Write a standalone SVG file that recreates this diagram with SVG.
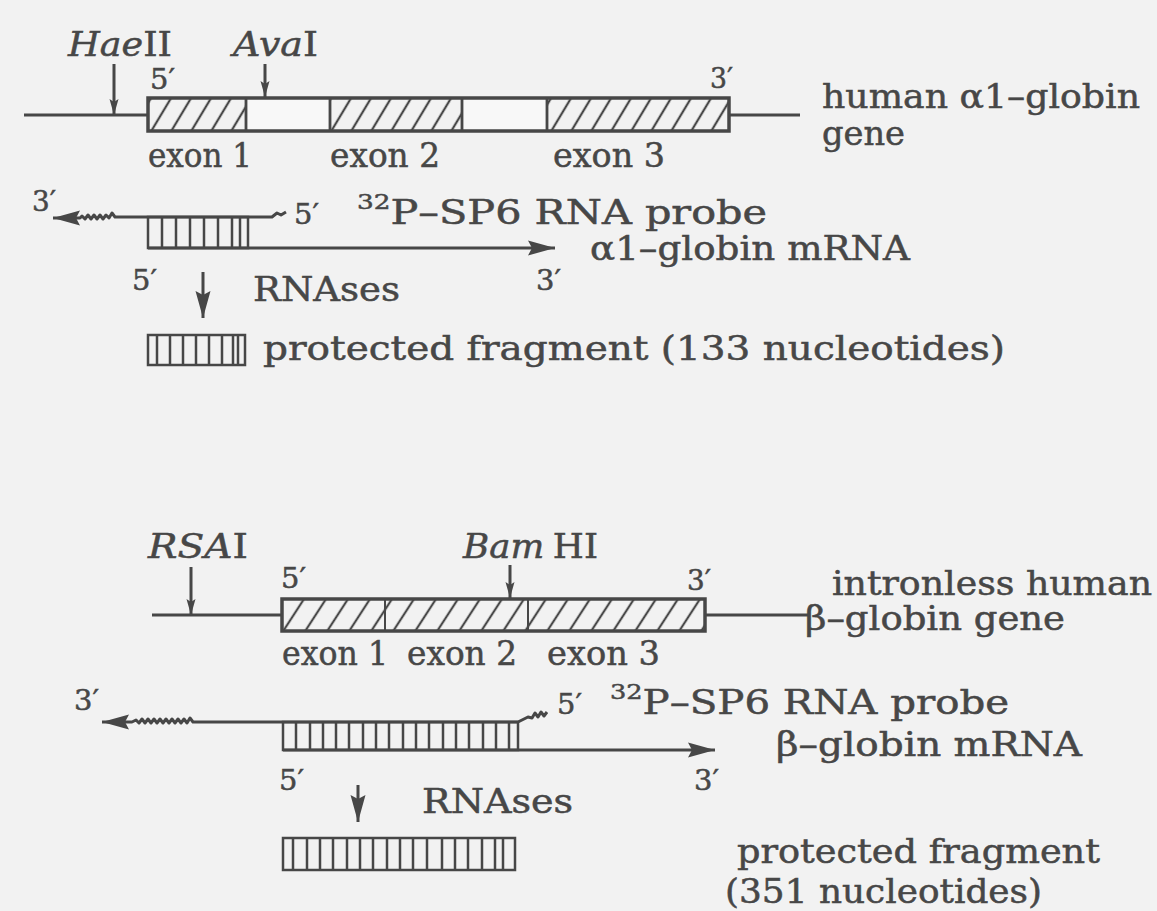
<svg xmlns="http://www.w3.org/2000/svg" width="1157" height="911" viewBox="0 0 1157 911">
<style>
.t{font-family:"DejaVu Serif","Liberation Serif",serif;font-size:33px;fill:#474747;stroke:#474747;stroke-width:0.5}
.p{font-size:27px}
.i{font-style:italic}
.sup{font-size:21px}
.ln{fill:none;stroke:#474747;stroke-width:3;stroke-linejoin:round}
.bx{fill:none;stroke:#474747;stroke-width:3.5}
.rg{fill:none;stroke:#474747;stroke-width:2.5}
.sep{fill:none;stroke:#474747;stroke-width:2.8}
.thin{fill:none;stroke:#474747;stroke-width:2}
</style>
<defs>
<pattern id="hT" patternUnits="userSpaceOnUse" width="20" height="60" patternTransform="skewX(-31)">
<line x1="10" y1="0" x2="10" y2="60" stroke="#474747" stroke-width="2.6"/>
</pattern>
<pattern id="hB" patternUnits="userSpaceOnUse" width="22" height="60" patternTransform="skewX(-33)">
<line x1="11" y1="0" x2="11" y2="60" stroke="#474747" stroke-width="2.6"/>
</pattern>
<marker id="big" viewBox="-28 -8 29 16" markerWidth="29" markerHeight="16" refX="0" refY="0" orient="auto" markerUnits="userSpaceOnUse">
<path d="M0,0 L-27,-7.5 L-23,0 L-27,7.5 Z" fill="#474747"/>
</marker>
<marker id="sm" viewBox="-17 -5 18 10" markerWidth="18" markerHeight="10" refX="0" refY="0" orient="auto" markerUnits="userSpaceOnUse">
<path d="M0,0 L-16,-4.5 L-13,0 L-16,4.5 Z" fill="#474747"/>
</marker>
</defs>
<rect x="0" y="0" width="1157" height="911" fill="#f2f2f2"/>

<!-- TOP: alpha1-globin gene -->
<g id="alpha-gene">
<line class="ln" x1="24" y1="115" x2="148" y2="115"/>
<line class="ln" x1="729" y1="115" x2="800" y2="115"/>
<rect x="246" y="98" width="84" height="33" fill="#f8f8f8"/>
<rect x="462" y="98" width="85" height="33" fill="#f8f8f8"/>
<rect x="148" y="98" width="98" height="33" fill="url(#hT)"/>
<rect x="330" y="98" width="132" height="33" fill="url(#hT)"/>
<rect x="547" y="98" width="182" height="33" fill="url(#hT)"/>
<path class="sep" d="M246,98V131 M330,98V131 M462,98V131 M547,98V131"/>
<rect class="bx" x="148" y="98" width="581" height="33"/>
<text class="t p" x="150" y="89" textLength="25" lengthAdjust="spacingAndGlyphs">5′</text>
<text class="t p" x="710" y="88" textLength="23" lengthAdjust="spacingAndGlyphs">3′</text>
<text class="t" x="148" y="167" textLength="104" lengthAdjust="spacingAndGlyphs">exon 1</text>
<text class="t" x="330" y="167" textLength="110" lengthAdjust="spacingAndGlyphs">exon 2</text>
<text class="t" x="553" y="167" textLength="112" lengthAdjust="spacingAndGlyphs">exon 3</text>
<text class="t" x="822" y="108" font-size="31" textLength="318" lengthAdjust="spacingAndGlyphs">human α1–globin</text>
<text class="t" x="822" y="145" font-size="31" textLength="83" lengthAdjust="spacingAndGlyphs">gene</text>
</g>
<g id="haeII">
<text class="t" x="68" y="56" textLength="104" lengthAdjust="spacingAndGlyphs"><tspan class="i">Hae</tspan>II</text>
</g>
<g id="avaI">
<text class="t" x="233" y="56" textLength="85" lengthAdjust="spacingAndGlyphs"><tspan class="i">Ava</tspan>I</text>
</g>

<!-- TOP: probe / mRNA hybrid -->
<g id="alpha-hybrid">
<rect class="rg" x="148" y="217" width="100" height="31"/>
<path class="rg" d="M162,217V248 M176,217V248 M190,217V248 M204,217V248 M218,217V248 M232,217V248 M240,217V248"/>
<text class="t p" x="32" y="211" textLength="24" lengthAdjust="spacingAndGlyphs">3′</text>
<text class="t p" x="294" y="224" textLength="25" lengthAdjust="spacingAndGlyphs">5′</text>
<text class="t" x="357" y="224" textLength="410" lengthAdjust="spacingAndGlyphs"><tspan class="sup" dy="-15">32</tspan><tspan dy="15">P–SP6 RNA  probe</tspan></text>
<text class="t" x="590" y="260" textLength="320" lengthAdjust="spacingAndGlyphs">α1–globin mRNA</text>
<text class="t p" x="132" y="290" textLength="25" lengthAdjust="spacingAndGlyphs">5′</text>
<text class="t p" x="536" y="290" textLength="25" lengthAdjust="spacingAndGlyphs">3′</text>
</g>
<g id="alpha-rnases">
<text class="t" x="253" y="301" textLength="147" lengthAdjust="spacingAndGlyphs">RNAses</text>
</g>
<g id="alpha-fragment">
<rect class="rg" x="148" y="335" width="97" height="30"/>
<path class="rg" d="M157,335V365 M170,335V365 M183,335V365 M196,335V365 M209,335V365 M222,335V365 M233,335V365 M238,335V365"/>
<text class="t" x="263" y="360" textLength="742" lengthAdjust="spacingAndGlyphs">protected fragment (133 nucleotides)</text>
</g>

<!-- BOTTOM: beta-globin gene -->
<g id="beta-gene">
<line class="ln" x1="152" y1="615" x2="282" y2="615"/>
<line class="ln" x1="705" y1="615" x2="810" y2="615"/>
<rect x="282" y="599" width="423" height="32" fill="url(#hB)"/>
<path class="thin" d="M385,599V631 M528,599V631"/>
<rect class="bx" x="282" y="599" width="423" height="32"/>
<text class="t p" x="281" y="588" textLength="25" lengthAdjust="spacingAndGlyphs">5′</text>
<text class="t p" x="687" y="590" textLength="24" lengthAdjust="spacingAndGlyphs">3′</text>
<text class="t" x="282" y="665" textLength="106" lengthAdjust="spacingAndGlyphs">exon 1</text>
<text class="t" x="407" y="665" textLength="110" lengthAdjust="spacingAndGlyphs">exon 2</text>
<text class="t" x="547" y="665" textLength="113" lengthAdjust="spacingAndGlyphs">exon 3</text>
<text class="t" x="832" y="595" textLength="320" lengthAdjust="spacingAndGlyphs">intronless human</text>
<text class="t" x="805" y="630" textLength="260" lengthAdjust="spacingAndGlyphs">β–globin gene</text>
</g>
<g id="rsaI">
<text class="t" x="148" y="558" textLength="100" lengthAdjust="spacingAndGlyphs"><tspan class="i">RSA</tspan>I</text>
</g>
<g id="bamHI">
<text class="t" x="463" y="558" textLength="135" lengthAdjust="spacingAndGlyphs"><tspan class="i">Bam</tspan><tspan dx="8">HI</tspan></text>
</g>

<!-- BOTTOM: probe / mRNA hybrid -->
<g id="beta-hybrid">
<rect class="rg" x="283" y="722" width="235" height="28"/>
<path class="rg" d="M296,722V750 M310,722V750 M323,722V750 M336,722V750 M349,722V750 M363,722V750 M376,722V750 M389,722V750 M403,722V750 M416,722V750 M429,722V750 M443,722V750 M456,722V750 M469,722V750 M483,722V750 M496,722V750 M509,722V750"/>
<text class="t p" x="74" y="710" textLength="25" lengthAdjust="spacingAndGlyphs">3′</text>
<text class="t p" x="557" y="714" textLength="25" lengthAdjust="spacingAndGlyphs">5′</text>
<text class="t" x="610" y="714" textLength="399" lengthAdjust="spacingAndGlyphs"><tspan class="sup" dy="-15">32</tspan><tspan dy="15">P–SP6 RNA probe</tspan></text>
<text class="t" x="776" y="756" textLength="306" lengthAdjust="spacingAndGlyphs">β–globin mRNA</text>
<text class="t p" x="279" y="790" textLength="25" lengthAdjust="spacingAndGlyphs">5′</text>
<text class="t p" x="694" y="790" textLength="25" lengthAdjust="spacingAndGlyphs">3′</text>
</g>
<g id="beta-rnases">
<text class="t" x="422" y="813" textLength="151" lengthAdjust="spacingAndGlyphs">RNAses</text>
</g>
<g id="beta-fragment">
<rect class="rg" x="283" y="838" width="232" height="32"/>
<path class="rg" d="M293,838V870 M307,838V870 M320,838V870 M333,838V870 M347,838V870 M360,838V870 M373,838V870 M387,838V870 M400,838V870 M413,838V870 M427,838V870 M442,838V870 M455,838V870 M468,838V870 M482,838V870 M495,838V870 M503,838V870"/>
<text class="t" x="737" y="863" textLength="363" lengthAdjust="spacingAndGlyphs">protected fragment</text>
<text class="t" x="725" y="903" textLength="317" lengthAdjust="spacingAndGlyphs">(351 nucleotides)</text>
</g>

<!-- connectors -->
<g id="connectors">
<line class="ln" x1="114" y1="64" x2="114" y2="115" marker-end="url(#sm)" stroke-width="2.2"/>
<line class="ln" x1="265" y1="64" x2="265" y2="97" marker-end="url(#sm)" stroke-width="2.2"/>
<path class="ln" d="M286,212 L281,215 L277,213 L272,217 L148,217 L115,217 L112,213 L109,218 L106,215 L103,219 L100,215 L97,219 L94,215 L91,219 L88,215 L85,219 L82,216 L80,218 L53,218" marker-end="url(#big)"/>
<line class="ln" x1="148" y1="248" x2="555" y2="248" marker-end="url(#big)"/>
<line class="ln" x1="203" y1="272" x2="203" y2="318" marker-end="url(#big)"/>
<line class="ln" x1="191" y1="567" x2="191" y2="615" marker-end="url(#sm)" stroke-width="2.2"/>
<line class="ln" x1="510" y1="565" x2="510" y2="598" marker-end="url(#sm)" stroke-width="2.2"/>
<path class="ln" d="M547,712 L544,716 L541,712 L538,717 L535,713 L532,718 L528,717 L524,719 L518,722 L283,722 L193,722 L190,718 L187,723 L184,719 L181,723 L178,719 L175,723 L172,719 L169,723 L166,719 L163,723 L160,719 L157,723 L154,719 L151,723 L148,719 L145,723 L142,719 L139,723 L136,720 L132,722 L102,722" marker-end="url(#big)"/>
<line class="ln" x1="283" y1="750" x2="715" y2="750" marker-end="url(#big)"/>
<line class="ln" x1="358" y1="785" x2="358" y2="822" marker-end="url(#big)"/>
</g>
</svg>
